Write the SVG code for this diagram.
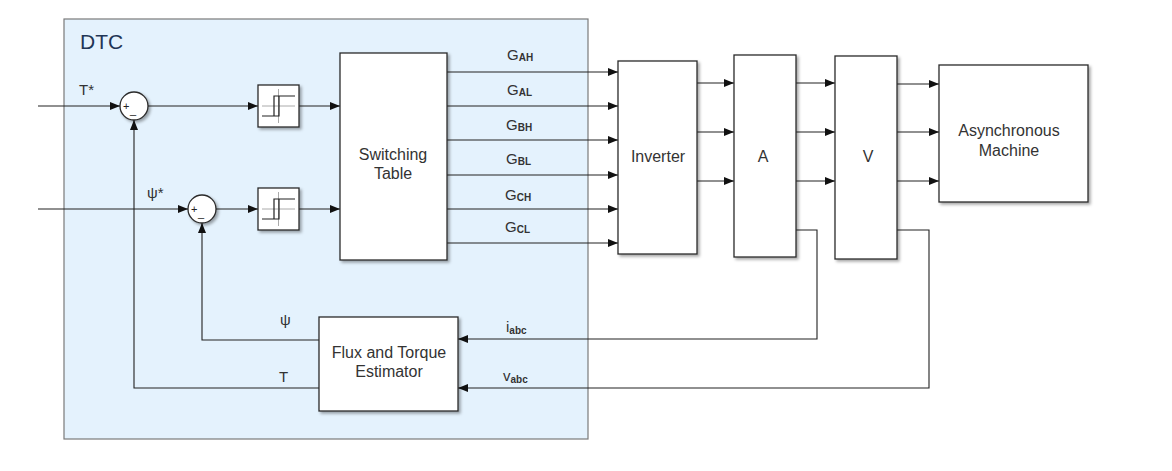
<svg xmlns="http://www.w3.org/2000/svg" width="1172" height="471" viewBox="0 0 1172 471">
<style>
.blk{fill:#fff;stroke:#2a2a2a;stroke-width:1.3;filter:url(#sh)}
.w{fill:none;stroke:#222;stroke-width:1.1}
.arr{marker-end:url(#ah)}
.t{font-family:"Liberation Sans",Arial,sans-serif;font-size:16px;fill:#333;text-anchor:middle}
.lbl{font-family:"Liberation Sans",Arial,sans-serif;font-size:15px;fill:#333}
.sub{font-size:10px;font-weight:bold}
.sg{font-family:"Liberation Sans",Arial,sans-serif;font-size:11px;fill:#222}
.cross{stroke:#aaa;stroke-width:1;fill:none}
.hys{stroke:#222;stroke-width:1.2;fill:none}
</style>
<defs>
<filter id="sh" x="-20%" y="-20%" width="140%" height="140%">
<feDropShadow dx="2" dy="2" stdDeviation="1.5" flood-color="#000" flood-opacity="0.35"/>
</filter>
<marker id="ah" markerUnits="userSpaceOnUse" markerWidth="10" markerHeight="8" refX="10" refY="4" orient="auto">
<path d="M0,0 L10,4 L0,8 z" fill="#111"/>
</marker>
</defs>
<rect width="1172" height="471" fill="#fff"/>
<g id="dtc">
<rect x="64" y="19" width="524" height="420" fill="#e4f2fd" stroke="#7a7a7a" stroke-width="1.2"/>
<text x="80" y="49" font-family="Liberation Sans,Arial,sans-serif" font-size="21" fill="#1f3556">DTC</text>
</g>
<g id="connectors">
<path class="w arr" d="M38,106 H120"/>
<path class="w arr" d="M148,106 H258"/>
<path class="w arr" d="M299,106 H340"/>
<path class="w arr" d="M38,209 H188"/>
<path class="w arr" d="M216,209 H258"/>
<path class="w arr" d="M299,209 H340"/>
<path class="w arr" d="M447,72 H618"/>
<path class="w arr" d="M447,106 H618"/>
<path class="w arr" d="M447,140 H618"/>
<path class="w arr" d="M447,175 H618"/>
<path class="w arr" d="M447,209 H618"/>
<path class="w arr" d="M447,243 H618"/>
<path class="w arr" d="M697,83 H734"/>
<path class="w arr" d="M697,132 H734"/>
<path class="w arr" d="M697,181 H734"/>
<path class="w arr" d="M796,83 H835"/>
<path class="w arr" d="M796,132 H835"/>
<path class="w arr" d="M796,181 H835"/>
<path class="w arr" d="M897,84 H939"/>
<path class="w arr" d="M897,132 H939"/>
<path class="w arr" d="M897,181 H939"/>
<path class="w arr" d="M796,230 H817 V339 H458"/>
<path class="w arr" d="M897,230 H929 V388 H458"/>
<path class="w arr" d="M319,340 H202 V223"/>
<path class="w arr" d="M319,388 H134 V120"/>
<text class="lbl" x="79" y="95">T*</text>
<text class="lbl" x="147" y="198">ψ*</text>
<text class="lbl" x="280" y="325">ψ</text>
<text class="lbl" x="279" y="382">T</text>
<text class="lbl" x="507" y="60">G<tspan class="sub" dy="1">AH</tspan></text>
<text class="lbl" x="507" y="95">G<tspan class="sub" dy="1">AL</tspan></text>
<text class="lbl" x="506" y="130">G<tspan class="sub" dy="1">BH</tspan></text>
<text class="lbl" x="506" y="164">G<tspan class="sub" dy="1">BL</tspan></text>
<text class="lbl" x="505" y="200">G<tspan class="sub" dy="1">CH</tspan></text>
<text class="lbl" x="505" y="232">G<tspan class="sub" dy="1">CL</tspan></text>
<text class="lbl" x="506" y="332">i<tspan class="sub" dy="2">abc</tspan></text>
<text class="lbl" x="503" y="381">v<tspan class="sub" dy="2">abc</tspan></text>
</g>
<g id="sum1">
<circle cx="134" cy="106" r="14" class="blk"/>
<text class="sg" x="123" y="110">+</text>
<text class="sg" x="130" y="114">_</text>
</g>
<g id="sum2">
<circle cx="202" cy="209" r="14" class="blk"/>
<text class="sg" x="191" y="213">+</text>
<text class="sg" x="198" y="217">_</text>
</g>
<g id="relay1">
<rect x="258" y="85" width="41" height="42" class="blk"/>
<path class="cross" d="M262,106 H295 M278.5,89 V123"/>
<path class="hys" d="M262,116 H279 V96 M274,116 V96 H295"/>
</g>
<g id="relay2">
<rect x="258" y="188" width="41" height="42" class="blk"/>
<path class="cross" d="M262,209 H295 M278.5,192 V226"/>
<path class="hys" d="M262,219 H279 V199 M274,219 V199 H295"/>
</g>
<g id="switching">
<rect x="340" y="53" width="107" height="207" class="blk"/>
<text class="t" x="393" y="160">Switching</text>
<text class="t" x="393" y="179">Table</text>
</g>
<g id="estimator">
<rect x="319" y="317" width="139" height="94" class="blk"/>
<text class="t" x="389" y="358">Flux and Torque</text>
<text class="t" x="389" y="377">Estimator</text>
</g>
<g id="inverter">
<rect x="618" y="61" width="79" height="193" class="blk"/>
<text class="t" x="658" y="162">Inverter</text>
</g>
<g id="A">
<rect x="734" y="55" width="62" height="202" class="blk"/>
<text class="t" x="763" y="162">A</text>
</g>
<g id="V">
<rect x="835" y="56" width="62" height="203" class="blk"/>
<text class="t" x="868" y="162">V</text>
</g>
<g id="machine">
<rect x="939" y="65" width="149" height="137" class="blk"/>
<text class="t" x="1009" y="136">Asynchronous</text>
<text class="t" x="1009" y="156">Machine</text>
</g>
</svg>
